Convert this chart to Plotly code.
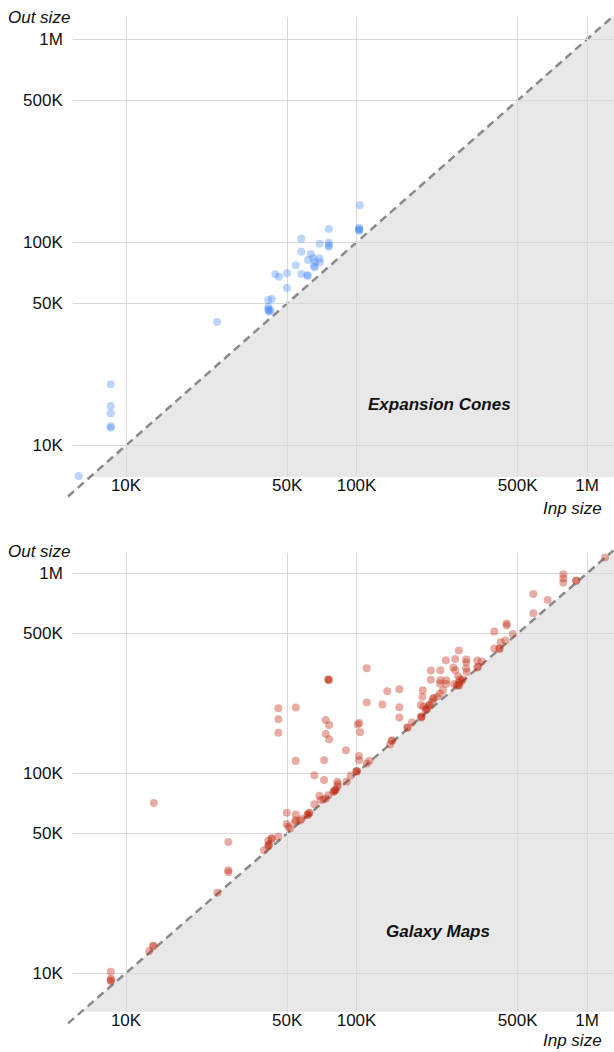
import math
import plotly.graph_objects as go

W, H = 614, 1052

tick_vals = [1e4, 5e4, 1e5, 5e5, 1e6]
tick_text = ["10K", "50K", "100K", "500K", "1M"]

# Expansion Cones (input size, output size)
cones_inp = [6230, 8580, 8580, 8580, 8580, 8580, 24800,
             103300, 102500, 102500, 102800, 102600,
             75800, 57600, 75800, 75800, 75800, 69200, 57600, 63300,
             61600, 64900, 69000, 66100, 69400, 65400, 65900, 54500,
             44400, 46100, 49900, 57600, 61200, 61400, 49900,
             41400, 42900, 41400, 41400, 42400, 41800, 41600]
cones_out = [7060, 20000, 15600, 14400, 12400, 12200, 40500,
             152200, 118000, 115900, 114000, 115000,
             116300, 104200, 99500, 96600, 95100, 98400, 89900, 87600,
             81800, 83700, 83100, 80300, 79700, 76400, 75300, 77000,
             69600, 67700, 70400, 69800, 69000, 68200, 59500,
             52000, 52600, 48200, 46800, 46400, 45500, 46000]

# Galaxy Maps (input size, output size)
galaxy_inp = [6210, 8590, 8590, 8590, 8600, 13100, 13150, 12600, 13200, 24900,
              27800, 27800, 27800, 39700, 41400, 41600, 41800, 41400, 42900, 42800,
              45800, 49800, 50600, 54100, 49800, 51500, 54500, 54500, 57800, 56900,
              61200, 61500, 62400, 62200, 65600, 69000, 69900, 71800, 73700, 75500,
              79300, 79800, 80700, 81000, 82500, 83100, 82500, 90700, 94400, 100200,
              99800, 100500, 72300, 65600, 54500, 72300, 90000, 102500, 102500, 113600,
              110700, 101200, 102800, 103600, 73500, 76000, 73500, 76000, 45800, 45800,
              45800, 54500, 75500, 75500, 75800, 110700, 110700, 129400, 136000, 153400,
              153400, 153400, 174100, 166100, 166500, 143000, 142000, 139700, 191400, 191000,
              190500, 1197000, 789000, 789000, 789000, 898000, 895000, 585000, 675000, 585000,
              448000, 448000, 396000, 476000, 442000, 422000, 396000, 416000, 418000, 278000,
              244000, 268000, 299000, 299000, 334000, 349000, 334000, 337000, 299000, 301000,
              210000, 231000, 263000, 268000, 210000, 231000, 276000, 281000, 278000, 285000,
              289000, 245000, 245000, 265000, 272000, 279000, 277000, 230000, 194000, 193000,
              237000, 230000, 224000, 215000, 216000, 212000, 207000, 206000, 203000, 200000,
              201000, 195000, 190000]
galaxy_out = [6380, 10150, 9330, 9090, 9200, 13600, 13700, 12900, 71000, 25200,
              32700, 31900, 45300, 41200, 43200, 43600, 44200, 45900, 47200, 47000,
              48000, 55600, 53900, 57100, 63300, 52900, 62100, 58200, 58900, 58000,
              61700, 62000, 63300, 63000, 69800, 77000, 73300, 73900, 74700, 77600,
              80600, 81200, 82200, 82500, 85400, 88100, 90500, 90900, 97400, 102300,
              101800, 102600, 92300, 97700, 115200, 116100, 130300, 122000, 116100, 115200,
              111800, 175200, 178400, 160300, 184700, 174400, 157200, 147900, 211300, 186200,
              159100, 213000, 294100, 294100, 292000, 335000, 225700, 220600, 257000, 263000,
              213800, 189900, 179300, 168500, 169000, 146200, 145000, 139200, 192800, 189900,
              191000, 1198000, 989000, 941000, 898000, 919000, 915000, 788000, 735000, 631000,
              560000, 548000, 511000, 497000, 461000, 452000, 420000, 418000, 421000, 411000,
              367000, 372000, 370000, 358000, 366000, 362000, 338000, 342000, 334000, 321000,
              326000, 327000, 338000, 327000, 293000, 292000, 305000, 294000, 283000, 289000,
              294000, 292000, 279000, 279000, 275000, 276000, 274000, 281000, 260000, 241000,
              260000, 250000, 241000, 236000, 237000, 227000, 219000, 218000, 211000, 207000,
              208000, 215000, 219000]

diag_lo, diag_hi = 5600, 1.3e6

FONT = "Liberation Sans"

x_dom = [72.8 / W, 1.0]
x_rng = [3.769, 6.117]
top_dom = [1 - 477 / H, 1 - 16.7 / H]
top_rng = [3.844, 6.111]
bot_dom = [1 - 1011.7 / H, 1 - 552.7 / H]
bot_rng = [3.8065, 6.103]


def to_paper(v, dom, rng):
    return dom[0] + (math.log10(v) - rng[0]) / (rng[1] - rng[0]) * (dom[1] - dom[0])


def panel_shapes(y_dom, y_rng):
    shapes = []
    yb, yt = y_dom
    x_at_bot = to_paper(10 ** y_rng[0], x_dom, x_rng)
    v_top = min(10 ** y_rng[1], 10 ** x_rng[1])
    p4x = to_paper(v_top, x_dom, x_rng)
    p4y = min(yt, to_paper(v_top, y_dom, y_rng))
    p3y = min(yt, to_paper(10 ** x_rng[1], y_dom, y_rng))
    path = (f"M {x_at_bot},{yb} L {x_dom[1]},{yb} L {x_dom[1]},{p3y} "
            f"L {p4x},{p4y} Z")
    shapes.append(dict(type="path", path=path, xref="paper", yref="paper",
                       fillcolor="#e8e8e8", line=dict(width=0), layer="below"))
    shapes.append(dict(type="line", xref="paper", yref="paper",
                       x0=to_paper(diag_lo, x_dom, x_rng), y0=to_paper(diag_lo, y_dom, y_rng),
                       x1=to_paper(diag_hi, x_dom, x_rng), y1=to_paper(diag_hi, y_dom, y_rng),
                       line=dict(color="#8a8a8a", width=2.5, dash="8px,5px"), layer="below"))
    return shapes


fig = go.Figure()
fig.add_trace(go.Scatter(x=cones_inp, y=cones_out, mode="markers", xaxis="x", yaxis="y",
                         cliponaxis=False, hoverinfo="skip",
                         marker=dict(size=8, color="rgba(66,133,244,0.35)", line=dict(width=0))))
fig.add_trace(go.Scatter(x=galaxy_inp, y=galaxy_out, mode="markers", xaxis="x2", yaxis="y2",
                         cliponaxis=False, hoverinfo="skip",
                         marker=dict(size=8, color="rgba(192,40,16,0.38)", line=dict(width=0))))

axis_common = dict(type="log", tickvals=tick_vals, ticktext=tick_text, showgrid=True,
                   gridcolor="#d9d9d9", gridwidth=1, zeroline=False, showline=False,
                   ticks="", tickfont=dict(family=FONT, size=17, color="#111111"),
                   fixedrange=True)
x_extra = dict(ticklabelstandoff=-4)
y_extra = dict(ticklabelstandoff=9)

fig.update_layout(
    width=W, height=H, margin=dict(l=0, r=0, t=0, b=0),
    paper_bgcolor="white", plot_bgcolor="rgba(0,0,0,0)", showlegend=False,
    xaxis=dict(domain=x_dom, range=x_rng, anchor="y", **axis_common, **x_extra),
    yaxis=dict(domain=top_dom, range=top_rng, anchor="x", **axis_common, **y_extra),
    xaxis2=dict(domain=x_dom, range=x_rng, anchor="y2", **axis_common, **x_extra),
    yaxis2=dict(domain=bot_dom, range=bot_rng, anchor="x2", **axis_common, **y_extra),
    shapes=panel_shapes(top_dom, top_rng) + panel_shapes(bot_dom, bot_rng),
)

title_font = dict(family=FONT, size=17, color="#111111", style="italic")
label_font = dict(family=FONT, size=17, color="#111111", style="italic", weight="bold")
annots = [
    dict(text="Out size", x=72 / W, y=1 - 17 / H, xanchor="right", yanchor="middle", font=title_font),
    dict(text="Inp size", x=604 / W, y=1 - 508 / H, xanchor="right", yanchor="middle", font=title_font),
    dict(text="Out size", x=72 / W, y=1 - 551 / H, xanchor="right", yanchor="middle", font=title_font),
    dict(text="Inp size", x=604 / W, y=1 - 1040 / H, xanchor="right", yanchor="middle", font=title_font),
    dict(text="Expansion Cones", x=439 / W, y=1 - 404 / H, xanchor="center", yanchor="middle", font=label_font),
    dict(text="Galaxy Maps", x=438 / W, y=1 - 931 / H, xanchor="center", yanchor="middle", font=label_font),
]
for a in annots:
    a.update(xref="paper", yref="paper", showarrow=False)
fig.update_layout(annotations=annots)

fig.write_html("out.html",
               config={"displayModeBar": False, "staticPlot": True},
               post_script="document.body.style.margin='0px';"
                           "document.body.style.overflow='hidden';")
